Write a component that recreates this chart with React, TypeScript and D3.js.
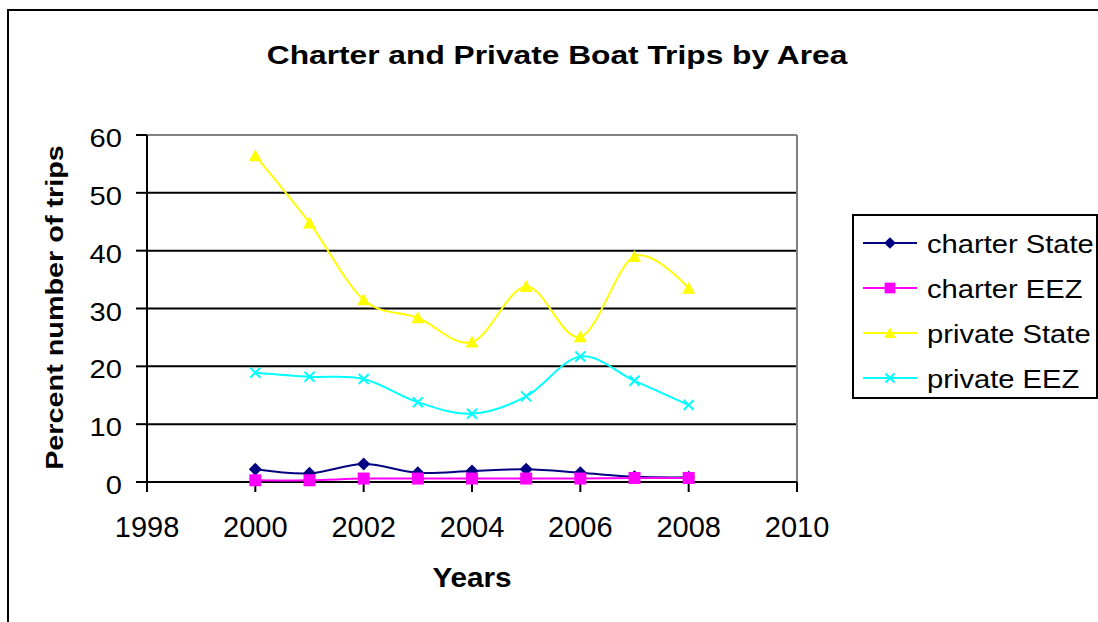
import React from "react";
import * as d3 from "d3";

const years = [2000, 2001, 2002, 2003, 2004, 2005, 2006, 2007, 2008];
const charterState = [2.2, 1.5, 3.1, 1.6, 1.9, 2.2, 1.6, 0.9, 0.8];
const charterEEZ = [0.3, 0.3, 0.6, 0.6, 0.6, 0.6, 0.6, 0.7, 0.7];
const privateState = [56.4, 44.8, 31.5, 28.4, 24.2, 33.8, 25.1, 39.0, 33.5];
const privateEEZ = [18.9, 18.2, 17.8, 13.8, 11.8, 14.8, 21.7, 17.5, 13.3];
const xTicks = [1998, 2000, 2002, 2004, 2006, 2008, 2010];
const yTicks = [0, 10, 20, 30, 40, 50, 60];
const seriesNames = ["charter State", "charter EEZ", "private State", "private EEZ"];
const seriesColors = ["#000080", "#FF00FF", "#FFFF00", "#00FFFF"];
const seriesMarkers = ["diamond", "square", "triangle", "x"];
const seriesValues = [charterState, charterEEZ, privateState, privateEEZ];

const FONT = "'Liberation Sans', Arial, sans-serif";

function Marker({ type, x, y, color, s = 1 }: { type: string; x: number; y: number; color: string; s?: number }) {
  if (type === "diamond") {
    const r = 6.5 * s;
    return <path d={`M${x},${y - r}L${x + r},${y}L${x},${y + r}L${x - r},${y}Z`} fill={color} />;
  }
  if (type === "square") {
    const r = 6 * s;
    return <rect x={x - r} y={y - r} width={2 * r} height={2 * r} fill={color} />;
  }
  if (type === "triangle") {
    const r = 6.5 * s;
    return <path d={`M${x},${y - r}L${x + r},${y + r * 0.85}L${x - r},${y + r * 0.85}Z`} fill={color} />;
  }
  const r = 5 * s;
  return (
    <path d={`M${x - r},${y - r}L${x + r},${y + r}M${x - r},${y + r}L${x + r},${y - r}`} stroke={color} strokeWidth={2} />
  );
}

function SText({
  x, y, sx = 1, rot = 0, anchor = "start", size, bold = false, children,
}: {
  x: number; y: number; sx?: number; rot?: number; anchor?: string; size: number; bold?: boolean; children: React.ReactNode;
}) {
  return (
    <text
      transform={`translate(${x},${y}) rotate(${rot}) scale(${sx},1)`}
      textAnchor={anchor}
      fontSize={size}
      fontWeight={bold ? "bold" : "normal"}
    >
      {children}
    </text>
  );
}

export default function App() {
  const W = 1098, H = 622;
  const x = d3.scaleLinear().domain([1998, 2010]).range([147, 797]);
  const y = d3.scaleLinear().domain([0, 60]).range([482, 135]);
  const line = d3
    .line<number>()
    .x((_, i) => x(years[i]))
    .y((d) => y(d))
    .curve(d3.curveCardinal.tension(0));

  return (
    <svg width={W} height={H} style={{ position: "absolute", left: 0, top: 0 }} fontFamily={FONT}>
      <rect x={0} y={0} width={W} height={H} fill="#fff" />
      <rect x={8} y={10} width={W + 10} height={H + 10} fill="none" stroke="#000" strokeWidth={2} />
      <SText x={557} y={64} sx={1.22} anchor="middle" size={26} bold>
        Charter and Private Boat Trips by Area
      </SText>
      {/* gridlines */}
      {yTicks.filter((t) => t > 0 && t < 60).map((t) => (
        <line key={t} x1={x(1998)} x2={x(2010)} y1={y(t)} y2={y(t)} stroke="#000" strokeWidth={2} />
      ))}
      <line x1={x(1998)} x2={x(2010)} y1={y(60)} y2={y(60)} stroke="#808080" strokeWidth={2} />
      <line x1={x(2010)} x2={x(2010)} y1={y(60)} y2={y(0)} stroke="#808080" strokeWidth={2} />
      {/* axes */}
      <line x1={x(1998)} x2={x(1998)} y1={y(60)} y2={y(0)} stroke="#000" strokeWidth={2} />
      <line x1={x(1998)} x2={x(2010)} y1={y(0)} y2={y(0)} stroke="#000" strokeWidth={2} />
      {yTicks.map((t) => (
        <g key={t}>
          <line x1={x(1998) - 11} x2={x(1998)} y1={y(t)} y2={y(t)} stroke="#000" strokeWidth={2} />
          <SText x={122} y={y(t) + 12} sx={1.12} anchor="end" size={26}>
            {t}
          </SText>
        </g>
      ))}
      {xTicks.map((t) => (
        <g key={t}>
          <line x1={x(t)} x2={x(t)} y1={y(0)} y2={y(0) + 10} stroke="#000" strokeWidth={2} />
          <SText x={x(t)} y={537} anchor="middle" size={29}>
            {t}
          </SText>
        </g>
      ))}
      <SText x={472} y={587} sx={1.06} anchor="middle" size={28} bold>
        Years
      </SText>
      <SText x={63} y={307.5} rot={-90} sx={1.2} anchor="middle" size={24} bold>
        Percent number of trips
      </SText>
      {/* series */}
      {seriesValues.map((vals, si) => (
        <g key={si}>
          <path d={line(vals) || ""} fill="none" stroke={seriesColors[si]} strokeWidth={2} />
          {vals.map((v, i) => (
            <Marker key={i} type={seriesMarkers[si]} x={x(years[i])} y={y(v)} color={seriesColors[si]} />
          ))}
        </g>
      ))}
      {/* legend */}
      <rect x={853} y={215} width={244} height={183} fill="#fff" stroke="#000" strokeWidth={2} />
      {seriesNames.map((n, i) => {
        const ly = 243 + i * 45;
        return (
          <g key={n}>
            <line x1={863} x2={917} y1={ly} y2={ly} stroke={seriesColors[i]} strokeWidth={2} />
            <Marker type={seriesMarkers[i]} x={890} y={ly} color={seriesColors[i]} s={0.9} />
            <SText x={927} y={ly + 9.5} sx={1.1} size={26.5}>
              {n}
            </SText>
          </g>
        );
      })}
    </svg>
  );
}
